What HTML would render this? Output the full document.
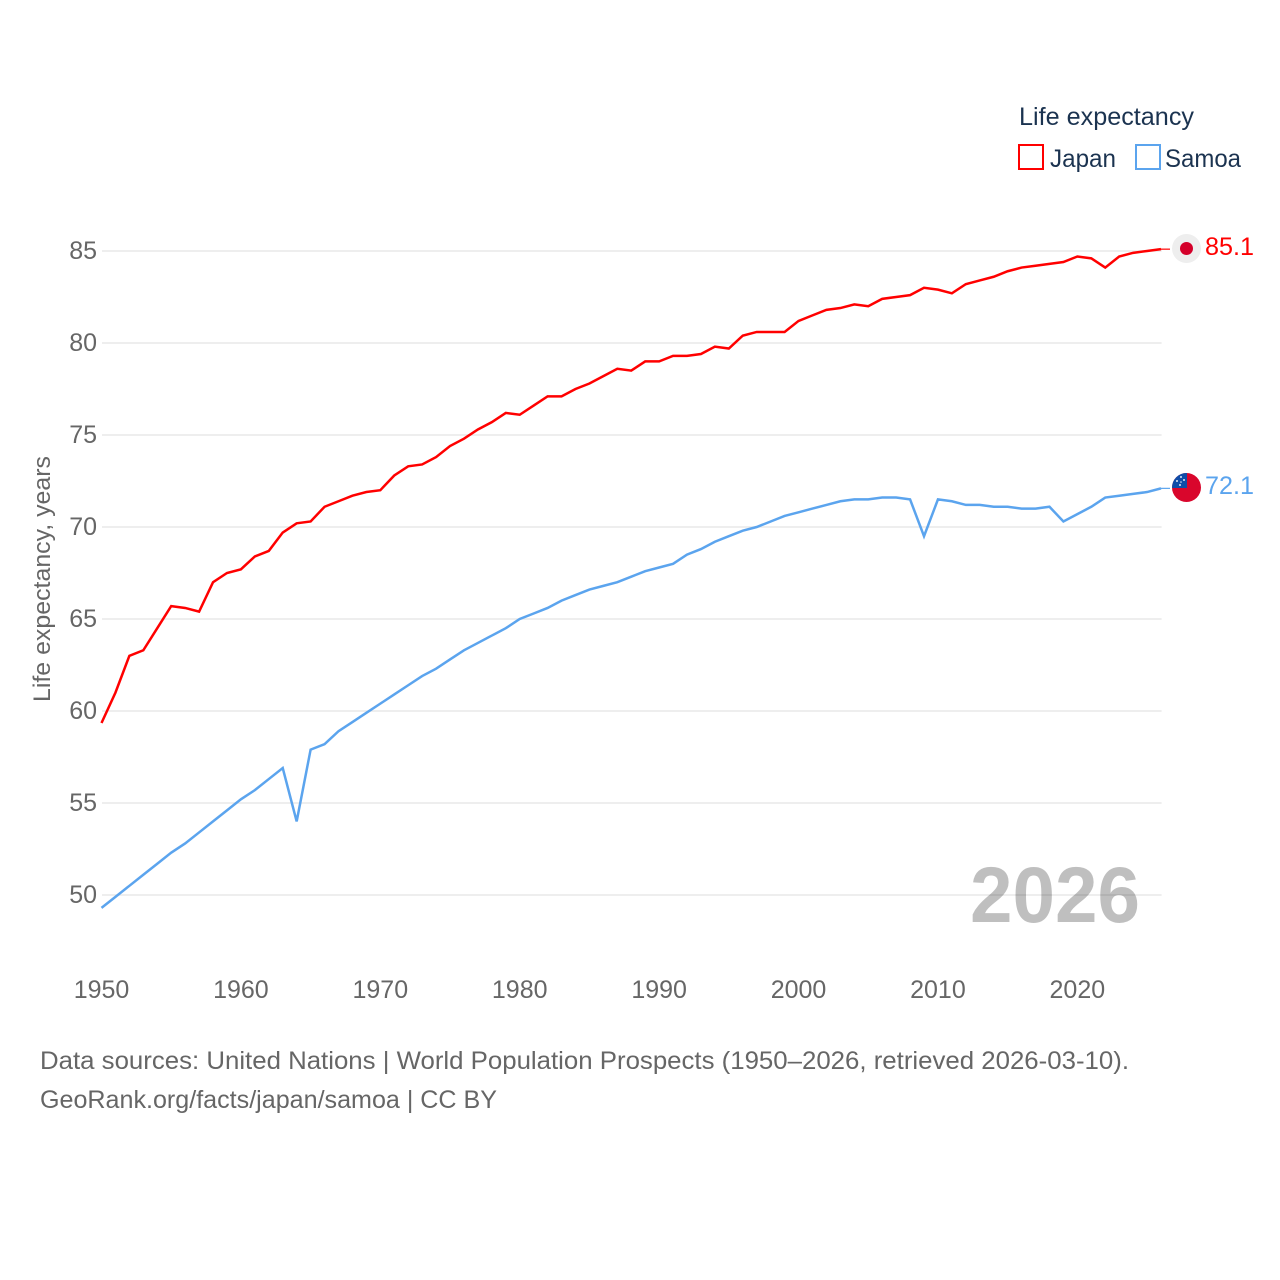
<!DOCTYPE html>
<html lang="en">
<head>
<meta charset="utf-8">
<title>Life expectancy: Japan and Samoa</title>
<style>
html,body{margin:0;padding:0;background:#fff;width:1280px;height:1280px;overflow:hidden}
svg{display:block}
text{font-family:"Liberation Sans",sans-serif}
</style>
</head>
<body>
<svg id="chart" width="1280" height="1280" viewBox="0 0 1280 1280" xmlns="http://www.w3.org/2000/svg">
  <rect x="0" y="0" width="1280" height="1280" fill="#fff"/>
  <defs>
    <clipPath id="flag-clip"><circle cx="1186.5" cy="487.5" r="14.5"/></clipPath>
  </defs>
  <g id="grid"></g>
  <g id="yticks"></g>
  <g id="xticks"></g>
  <text x="0" y="0" transform="translate(50,579) rotate(-90)" text-anchor="middle" font-size="24" fill="#666" textLength="246" lengthAdjust="spacingAndGlyphs">Life expectancy, years</text>
  <text x="970" y="922" font-size="79" font-weight="700" fill="#000" fill-opacity="0.25" textLength="170" lengthAdjust="spacingAndGlyphs">2026</text>
  <g id="series"></g>

  <g>
    <text x="1019" y="125" font-size="25" fill="#1b3350" textLength="175" lengthAdjust="spacingAndGlyphs">Life expectancy</text>
    <g>
      <rect x="1019" y="145" width="24" height="24" fill="#fff" stroke="#ff0000" stroke-width="2"/>
      <text x="1050" y="167" font-size="25" fill="#1b3350" textLength="66" lengthAdjust="spacingAndGlyphs">Japan</text>
    </g>
    <g>
      <rect x="1136" y="145" width="24" height="24" fill="#fff" stroke="#5ba4ee" stroke-width="2"/>
      <text x="1165" y="167" font-size="25" fill="#1b3350" textLength="76" lengthAdjust="spacingAndGlyphs">Samoa</text>
    </g>
  </g>

  <g>
    <circle cx="1186.5" cy="248.5" r="14.5" fill="#eeeeee"/>
    <circle cx="1186.5" cy="248.5" r="6.5" fill="#d4002a"/>
  </g>
  <text x="1205" y="255" font-size="25" fill="#ff0000" textLength="49" lengthAdjust="spacingAndGlyphs">85.1</text>

  <g clip-path="url(#flag-clip)">
    <rect x="1172" y="473" width="30" height="30" fill="#d9062c"/>
    <rect x="1172" y="473" width="15" height="15" fill="#0f4da8"/>
    <g fill="#dfe9f7">
      <circle cx="1181" cy="477" r="1"/><circle cx="1177" cy="481" r="1"/><circle cx="1184" cy="480" r="1"/><circle cx="1181" cy="482" r=".8"/><circle cx="1180" cy="485" r="1"/>
    </g>
  </g>
  <text x="1205" y="494" font-size="25" fill="#5ba4ee" textLength="49" lengthAdjust="spacingAndGlyphs">72.1</text>

  <g>
    <text x="40" y="1069" font-size="25" fill="#666" textLength="1089" lengthAdjust="spacingAndGlyphs">Data sources: United Nations | World Population Prospects (1950–2026, retrieved 2026-03-10).</text>
    <text x="40" y="1108" font-size="25" fill="#666" textLength="457" lengthAdjust="spacingAndGlyphs">GeoRank.org/facts/japan/samoa | CC BY</text>
  </g>
</svg>
<script>
var years = [1950,1951,1952,1953,1954,1955,1956,1957,1958,1959,1960,1961,1962,1963,1964,1965,1966,1967,1968,1969,1970,1971,1972,1973,1974,1975,1976,1977,1978,1979,1980,1981,1982,1983,1984,1985,1986,1987,1988,1989,1990,1991,1992,1993,1994,1995,1996,1997,1998,1999,2000,2001,2002,2003,2004,2005,2006,2007,2008,2009,2010,2011,2012,2013,2014,2015,2016,2017,2018,2019,2020,2021,2022,2023,2024,2025,2026];
var japan = [59.35,61.0,63.0,63.3,64.5,65.7,65.6,65.4,67.0,67.5,67.7,68.4,68.7,69.7,70.2,70.3,71.1,71.4,71.7,71.9,72.0,72.8,73.3,73.4,73.8,74.4,74.8,75.3,75.7,76.2,76.1,76.6,77.1,77.1,77.5,77.8,78.2,78.6,78.5,79.0,79.0,79.3,79.3,79.4,79.8,79.7,80.4,80.6,80.6,80.6,81.2,81.5,81.8,81.9,82.1,82.0,82.4,82.5,82.6,83.0,82.9,82.7,83.2,83.4,83.6,83.9,84.1,84.2,84.3,84.4,84.7,84.6,84.1,84.7,84.9,85.0,85.1];
var samoa = [49.3,49.9,50.5,51.1,51.7,52.3,52.8,53.4,54.0,54.6,55.2,55.7,56.3,56.9,54.0,57.9,58.2,58.9,59.4,59.9,60.4,60.9,61.4,61.9,62.3,62.8,63.3,63.7,64.1,64.5,65.0,65.3,65.6,66.0,66.3,66.6,66.8,67.0,67.3,67.6,67.8,68.0,68.5,68.8,69.2,69.5,69.8,70.0,70.3,70.6,70.8,71.0,71.2,71.4,71.5,71.5,71.6,71.6,71.5,69.5,71.5,71.4,71.2,71.2,71.1,71.1,71.0,71.0,71.1,70.3,70.7,71.1,71.6,71.7,71.8,71.9,72.1];
var yTicks = [50,55,60,65,70,75,80,85];
var xTicks = [1950,1960,1970,1980,1990,2000,2010,2020];

var NS = 'http://www.w3.org/2000/svg';
function xScale(v){ return 101.5 + (v - 1950) * (1161 - 101.5) / 76; }
function yScale(v){ return 895 - (v - 50) * 18.4; }

var grid = document.getElementById('grid');
var yG = document.getElementById('yticks');
var xG = document.getElementById('xticks');
var seriesG = document.getElementById('series');

yTicks.forEach(function(t){
  var l = document.createElementNS(NS, 'line');
  
  
  l.setAttribute('x1', 102);
  l.setAttribute('x2', 1161.6);
  l.setAttribute('y1', yScale(t));
  l.setAttribute('y2', yScale(t));
  l.setAttribute('stroke', '#e8e8e8');
  l.setAttribute('stroke-width', '1.5');
  grid.appendChild(l);

  var s = document.createElementNS(NS, 'text');
  
  
  s.setAttribute('x', 97);
  s.setAttribute('y', yScale(t) + 8);
  s.setAttribute('text-anchor', 'end');
  s.setAttribute('font-size', '25');
  s.setAttribute('fill', '#666');
  s.textContent = t;
  yG.appendChild(s);
});

xTicks.forEach(function(t){
  var s = document.createElementNS(NS, 'text');
  
  
  s.setAttribute('x', xScale(t));
  s.setAttribute('y', 998);
  s.setAttribute('text-anchor', 'middle');
  s.setAttribute('font-size', '25');
  s.setAttribute('fill', '#666');
  s.textContent = t;
  xG.appendChild(s);
});

function drawSeries(values, color, name){
  var d = values.map(function(v, i){
    return (i ? 'L' : 'M') + xScale(years[i]).toFixed(2) + ' ' + yScale(v).toFixed(2);
  }).join(' ');
  var p = document.createElementNS(NS, 'path');
  
  
  p.setAttribute('d', d);
  p.setAttribute('fill', 'none');
  p.setAttribute('stroke', color);
  p.setAttribute('stroke-width', '2.5');
  p.setAttribute('stroke-linejoin', 'miter');
  seriesG.appendChild(p);

  var last = values[values.length - 1];
  var c = document.createElementNS(NS, 'line');
  
  
  c.setAttribute('x1', xScale(years[years.length - 1]));
  c.setAttribute('x2', 1170);
  c.setAttribute('y1', yScale(last));
  c.setAttribute('y2', yScale(last));
  c.setAttribute('stroke', color);
  c.setAttribute('stroke-width', '1.2');
  seriesG.appendChild(c);
}
drawSeries(japan, '#ff0000', 'japan');
drawSeries(samoa, '#5ba4ee', 'samoa');
</script>
</body>
</html>
